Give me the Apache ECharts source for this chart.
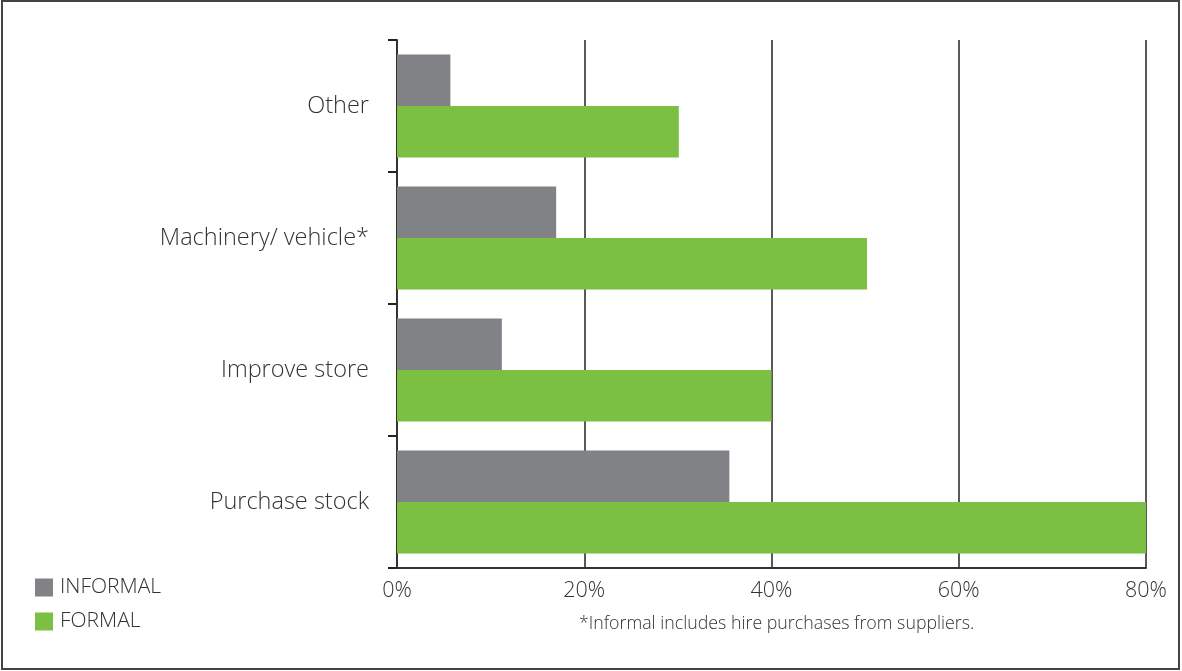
<!DOCTYPE html>
<html>
<head>
<meta charset="utf-8">
<script src="https://cdn.jsdelivr.net/npm/echarts@6/dist/echarts.min.js"></script>
<style>
html,body{margin:0;padding:0;background:#fff;}
#c{width:1182px;height:671px;}
</style>
</head>
<body>
<div id="c"></div>
<script>
const categories = ['Purchase stock', 'Improve store', 'Machinery/ vehicle*', 'Other'];
const informal = [35.5, 11.2, 17.0, 5.7];
const formal = [80, 40, 50.2, 30.1];
const xTicks = { min: 0, max: 80, interval: 20 };
const footnote = '*Informal includes hire purchases from suppliers.';

const font = '"Open Sans", "Noto Sans", sans-serif';
const fw = 300;
const chart = echarts.init(document.getElementById('c'), null, { renderer: 'canvas' });
chart.setOption({
  animation: false,
  backgroundColor: '#fff',
  textStyle: { fontFamily: font },
  grid: { left: 397, right: 36, top: 40, bottom: 103, containLabel: false },
  legend: {
    orient: 'vertical',
    left: 35, top: 577, padding: 0,
    itemWidth: 18, itemHeight: 18, itemGap: 13,
    icon: 'rect',
    data: ['INFORMAL', 'FORMAL'],
    textStyle: { fontSize: 21, color: '#333', fontFamily: font, fontWeight: fw, padding: [0, 0, 0, 2] }
  },
  xAxis: {
    type: 'value',
    min: xTicks.min, max: xTicks.max, interval: xTicks.interval,
    axisLine: { show: true, lineStyle: { color: '#333', width: 2 } },
    axisTick: { show: false },
    splitLine: { show: true, lineStyle: { color: '#222', width: 1.5 } },
    axisLabel: { formatter: '{value}%', fontSize: 21.5, color: '#333', fontWeight: fw, margin: 12, fontFamily: font }
  },
  yAxis: {
    type: 'category',
    data: categories,
    axisLine: { show: true, lineStyle: { color: '#333', width: 2 } },
    axisTick: { show: true, length: 9, lineStyle: { color: '#222', width: 2 } },
    axisLabel: { fontSize: 23.5, color: '#333', fontWeight: fw, margin: 28, fontFamily: font }
  },
  series: [
    {
      name: 'INFORMAL', type: 'bar', data: informal,
      itemStyle: { color: '#818285' },
      barGap: '0%', barCategoryGap: '22%'
    },
    {
      name: 'FORMAL', type: 'bar', data: formal,
      itemStyle: { color: '#7BC043' },
      barGap: '0%', barCategoryGap: '22%'
    }
  ],
  graphic: [
    {
      type: 'rect', silent: true, z: 100,
      shape: { x: 2, y: 1, width: 1177, height: 668 },
      style: { fill: 'none', stroke: '#444', lineWidth: 2 }
    },
    {
      type: 'text', left: 579, top: 615,
      style: { text: footnote, fontSize: 17.8, fill: '#333', fontWeight: fw, fontFamily: font }
    }
  ]
});
</script>
</body>
</html>
